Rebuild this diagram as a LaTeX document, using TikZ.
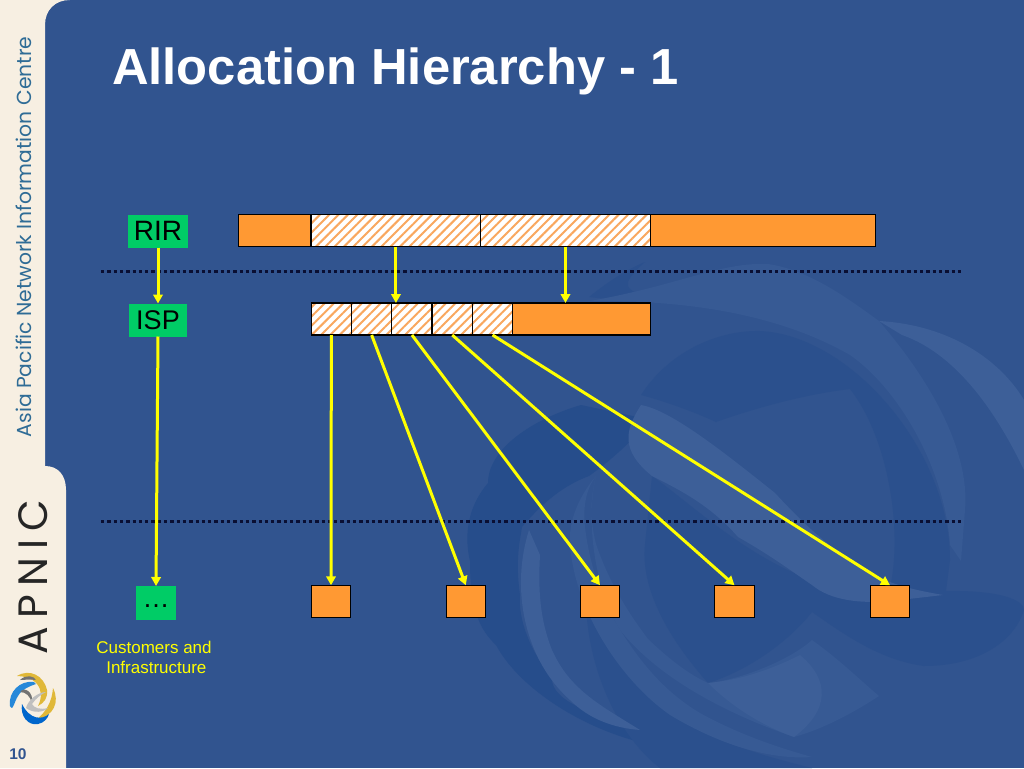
\documentclass[tikz,border=0pt]{standalone}
\usepackage{fontspec}
\setmainfont{Liberation Sans}
\newfontfamily\geo{Poppins}
\newfontfamily\geospaced[LetterSpace=20]{Poppins}
\usetikzlibrary{patterns.meta,arrows.meta}
\definecolor{bgblue}{HTML}{31548F}
\definecolor{swirlD}{HTML}{2B508D}
\definecolor{swirlE}{HTML}{264D8B}
\definecolor{swirlB}{HTML}{375A94}
\definecolor{swirlC}{HTML}{3D5F98}
\definecolor{cream}{HTML}{F7EFE2}
\definecolor{orangeF}{HTML}{FF9933}
\definecolor{hatchO}{HTML}{F9A75E}
\definecolor{greenF}{HTML}{00CC66}
\definecolor{arrowY}{HTML}{FFFF00}
\definecolor{sidetext}{HTML}{2F6C96}
\definecolor{darkdot}{HTML}{0A0F33}
\tikzset{
  x=1pt,y=-1pt,
  solidbar/.style={draw=black,line width=1.3pt,fill=orangeF,inner sep=0pt,outer sep=0pt,anchor=north west},
  hatchbar/.style={draw=black,line width=1.3pt,inner sep=0pt,outer sep=0pt,anchor=north west,
     preaction={fill=white},
     preaction={pattern={Lines[angle=45,distance=6.6pt,line width=2pt]},pattern color=hatchO}},
  tag/.style={fill=greenF,inner sep=0pt,outer sep=0pt,text=black,anchor=center},
  yarrow/.style={draw=arrowY,line width=3pt,-{Triangle[length=9pt,width=9.5pt]}},
  sep/.style={draw=darkdot,line width=3pt,dash pattern=on 3.3pt off 3pt},
}
\begin{document}
\begin{tikzpicture}
\useasboundingbox (0,0) rectangle (1024,768);
\fill[bgblue] (0,0) rectangle (1024,768);
% background swirl: dark bands
\fill[swirlD] (641,395) .. controls (670,350) and (720,330) .. (760,331)
  .. controls (850,335) and (950,450) .. (950,560) -- (946,591) -- (887,600)
  .. controls (905,540) and (890,440) .. (850,389)
  .. controls (800,395) and (750,410) .. (716,422)
  .. controls (690,410) and (660,400) .. (641,395) -- cycle;
\fill[swirlD] (589,297) .. controls (610,280) and (630,268) .. (645,262)
  .. controls (620,285) and (620,290) .. (660,301) .. controls (640,300) and (610,300) .. (589,297) -- cycle;
\fill[swirlD] (652,476) .. controls (700,510) and (780,590) .. (868,590) -- (946,591)
  .. controls (1000,590) and (1024,600) .. (1024,610)
  .. controls (1015,640) and (980,666) .. (924,666)
  .. controls (880,660) and (845,635) .. (812,612)
  .. controls (790,640) and (750,670) .. (708,683)
  .. controls (670,640) and (640,590) .. (645,544) -- cycle;
\fill[swirlE] (581,405) .. controls (530,420) and (488,450) .. (488,483)
  .. controls (465,510) and (465,540) .. (470,561)
  .. controls (470,610) and (480,630) .. (496,645)
  .. controls (520,690) and (590,735) .. (663,747)
  -- (637,726) .. controls (590,715) and (552,700) .. (552,679)
  .. controls (530,650) and (518,620) .. (520,595)
  .. controls (515,560) and (520,540) .. (522,527)
  .. controls (545,500) and (565,485) .. (589,476)
  .. controls (625,450) and (640,430) .. (652,420) -- cycle;
\fill[swirlD] (589,560) .. controls (590,640) and (640,700) .. (700,730)
  .. controls (740,750) and (780,760) .. (812,768) -- (660,768)
  .. controls (610,730) and (575,640) .. (589,560) -- cycle;
% light bands
\fill[swirlB] (590,301) .. controls (680,285) and (720,262) .. (768,264)
  .. controls (810,270) and (850,300) .. (879,321)
  .. controls (930,380) and (970,450) .. (965,510)
  -- (961,561) -- (950,545)
  .. controls (945,470) and (900,390) .. (850,355)
  .. controls (780,315) and (690,300) .. (590,301) -- cycle;
\fill[swirlC] (879,321) .. controls (950,325) and (1000,360) .. (1024,400) -- (1024,470)
  .. controls (1000,420) and (960,355) .. (902,335) -- cycle;
\fill[swirlC] (641,405) .. controls (670,410) and (720,449) .. (775,493)
  .. controls (800,520) and (830,550) .. (868,571)
  .. controls (890,585) and (915,590) .. (943,595)
  -- (900,600) .. controls (860,605) and (830,600) .. (812,585)
  .. controls (790,570) and (770,555) .. (738,537)
  .. controls (710,505) and (680,490) .. (652,476)
  .. controls (620,450) and (625,430) .. (641,405) -- cycle;
\fill[swirlC] (529,530) .. controls (510,590) and (525,660) .. (570,700)
  .. controls (590,720) and (615,728) .. (640,730)
  .. controls (600,705) and (570,690) .. (552,650)
  .. controls (540,620) and (538,590) .. (540,555) -- cycle;
\fill[swirlB] (596,476) .. controls (585,490) and (583,510) .. (585,527)
  .. controls (590,570) and (605,605) .. (619,628)
  .. controls (645,670) and (670,695) .. (700,713)
  .. controls (740,735) and (780,748) .. (812,757)
  .. controls (770,760) and (720,745) .. (670,715)
  .. controls (620,680) and (575,610) .. (570,545)
  .. controls (568,520) and (580,495) .. (596,476) -- cycle;
\fill[swirlB] (596,476) .. controls (590,500) and (590,520) .. (596,544)
  .. controls (610,585) and (630,615) .. (648,639)
  .. controls (670,660) and (690,675) .. (708,683)
  .. controls (740,680) and (790,660) .. (812,640)
  .. controls (840,660) and (860,680) .. (879,696)
  .. controls (850,715) and (820,730) .. (794,737)
  .. controls (730,715) and (660,680) .. (620,630)
  .. controls (595,590) and (585,520) .. (596,476) -- cycle;
\fill[swirlC] (708,683) .. controls (740,680) and (770,670) .. (800,655)
  .. controls (830,680) and (830,710) .. (794,737)
  .. controls (760,725) and (730,705) .. (708,683) -- cycle;
% left strip
\fill[cream] (0,0) -- (70,0) .. controls (55,0) and (45,10) .. (45,25) -- (45,466)
  .. controls (58,466) and (66,475) .. (66,490) -- (66,768) -- (0,768) -- cycle;
\node[rotate=90,text=sidetext,font=\geo\fontsize{20.3}{20}\selectfont,inner sep=0pt] (sidelabel) at (24,237) {Asia Pacific Network Information Centre};
\node[rotate=90,text=black!85,font=\geospaced\fontsize{41}{41}\selectfont,inner sep=0pt] (apnic) at (33,577) {APNIC};
% logo
\fill[yellow!55!orange!75!gray] (17,676) .. controls (30,668) and (44,676) .. (47,690)
  .. controls (48,698) and (44,703) .. (38,706) .. controls (42,698) and (42,690) .. (37,684)
  .. controls (32,678) and (24,676) .. (17,676) -- cycle;
\fill[yellow!55!orange!75!gray] (53,688) .. controls (60,702) and (54,716) .. (36,720)
  .. controls (46,712) and (52,702) .. (53,688) -- cycle;
\fill[blue!45!cyan!70!gray] (34,682) .. controls (20,680) and (8,692) .. (10,706)
  .. controls (13,712) and (14,702) .. (18,696) .. controls (22,689) and (30,686) .. (36,684) -- cycle;
\fill[black!55] (20,680) .. controls (26,674) and (34,676) .. (36,680) .. controls (30,679) and (24,680) .. (20,680) -- cycle;
\fill[blue!50!cyan!80!black] (22,704) .. controls (20,716) and (28,726) .. (38,724)
  .. controls (44,723) and (48,718) .. (49,714) .. controls (42,720) and (30,720) .. (22,704) -- cycle;
\fill[black!55] (20,692) .. controls (24,686) and (34,692) .. (32,703)
  .. controls (30,696) and (26,692) .. (20,692) -- cycle;
\fill[black!25] (46,692) .. controls (38,692) and (28,700) .. (26,708)
  .. controls (34,714) and (44,712) .. (48,708) .. controls (40,710) and (34,708) .. (32,704)
  .. controls (36,698) and (42,694) .. (46,692) -- cycle;
\node[text=bgblue,font=\bfseries\fontsize{15.5}{15}\selectfont,inner sep=0pt] (pagenum) at (18,754) {10};
% title
\node[anchor=west,text=white,font=\bfseries\fontsize{50.7}{51}\selectfont,inner sep=0pt] (title) at (112,71) {Allocation Hierarchy - 1};
% separators
\coordinate (s1l) at (101,271); \coordinate (s1r) at (961,271);
\coordinate (s2l) at (101,521); \coordinate (s2r) at (961,521);
\draw[sep] (s1l) -- (s1r);
\draw[sep] (s2l) -- (s2r);
% tags
\node[tag,font=\fontsize{28}{28}\selectfont,minimum width=60,minimum height=33] (rir) at (158,231) {RIR};
\node[tag,font=\fontsize{27}{27}\selectfont,minimum width=58,minimum height=33] (isp) at (158,320) {ISP};
\node[tag,font=\fontsize{27}{27}\selectfont,minimum width=40,minimum height=34] (cust) at (156,603) {\raisebox{-8pt}{…}};
\node[text=arrowY,font=\fontsize{17}{20}\selectfont,align=center,inner sep=0pt] (custlabel) at (154,657) {Customers and\\ ~Infrastructure};
% RIR bar
\node[solidbar,minimum width=72.5,minimum height=32] (r0) at (238.6,214.6) {};
\node[hatchbar,minimum width=169.5,minimum height=32] (r1) at (311.2,214.6) {};
\node[hatchbar,minimum width=169.5,minimum height=32] (r2) at (480.7,214.6) {};
\node[solidbar,minimum width=225,minimum height=32] (r3) at (650.2,214.6) {};
% ISP bar
\foreach \i/\xx in {1/311.2,2/351.5,3/391.8,4/432.1,5/472.4}{
  \node[hatchbar,minimum width=40.3,minimum height=32] (i\i) at (\xx,303) {};
}
\node[solidbar,minimum width=138,minimum height=32] (i6) at (512.4,303) {};
% customer boxes
\foreach \n/\xx in {1/331,2/465.8,3/600,4/734.5,5/890}{
  \node[draw=black,line width=1pt,fill=orangeF,minimum width=39.5,minimum height=32.5,inner sep=0pt,outer sep=0pt] (c\n) at (\xx,601.5) {};
}
% arrows
\draw[yarrow] (rir.south) -- (isp.north);
\draw[yarrow] (isp.south) -- (cust.north);
\draw[yarrow] (r1.south) -- (r1.south |- i3.north);
\draw[yarrow] (r2.south) -- (r2.south |- i6.north);
\draw[yarrow] (i1.south) -- (c1.north);
\draw[yarrow] (i2.south) -- (c2.north);
\draw[yarrow] (i3.south) -- (c3.north);
\draw[yarrow] (i4.south) -- (c4.north);
\draw[yarrow] (i5.south) -- (c5.north);
\end{tikzpicture}
\end{document}
